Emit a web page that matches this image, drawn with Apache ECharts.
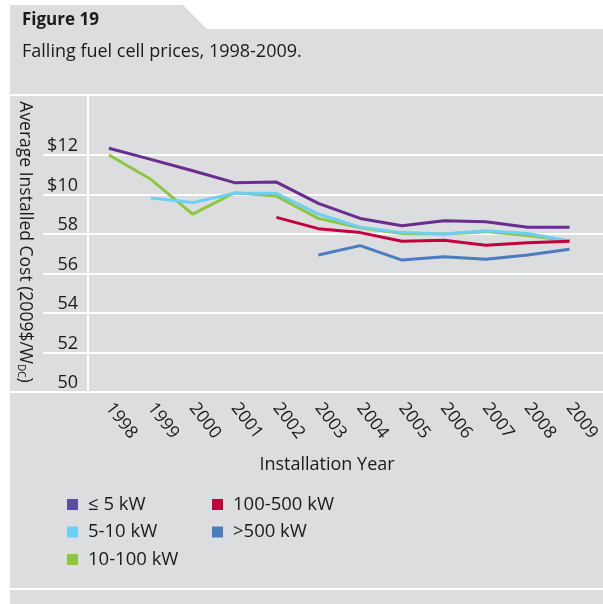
<!DOCTYPE html>
<html>
<head>
<meta charset="utf-8">
<script src="https://cdn.jsdelivr.net/npm/echarts@6/dist/echarts.min.js"></script>
<style>
html,body{margin:0;padding:0;background:#fff;}
#chart{width:603px;height:604px;}
</style>
</head>
<body>
<div id="chart"></div>
<script>
// ---- data ----
var years = ['1998','1999','2000','2001','2002','2003','2004','2005','2006','2007','2008','2009'];
var yTickValues = [0, 2, 4, 6, 8, 10, 12];
var yTickLabels = ['50', '52', '54', '56', '58', '$10', '$12'];
var seriesNames = ['\u2264 5 kW', '5-10 kW', '10-100 kW', '100-500 kW', '>500 kW'];
var le5kW     = [12.34, 11.78, 11.20, 10.60, 10.63, 9.55, 8.79, 8.42, 8.67, 8.62, 8.34, 8.34];
var kW5to10   = [null, 9.82, 9.59, 10.06, 10.06, 9.01, 8.34, 8.07, 8.00, 8.17, 8.03, 7.65];
var kW10to100 = [12.00, 10.77, 9.01, 10.09, 9.92, 8.79, 8.32, 8.03, 8.00, 8.12, 7.92, 7.65];
var kW100to500= [null, null, null, null, 8.84, 8.27, 8.07, 7.63, 7.68, 7.43, 7.56, 7.63];
var kWgt500   = [null, null, null, null, null, 6.94, 7.41, 6.68, 6.85, 6.72, 6.94, 7.23];

var colors = ['#6a2c8f', '#6dcff6', '#8dc63f', '#c4003d', '#4a7cc0'];
var legendColors = ['#5b4ea3', '#6dcff6', '#8dc63f', '#c4003d', '#4a7cc0'];
var seriesData = [le5kW, kW5to10, kW10to100, kW100to500, kWgt500];

var FONT = 'Open Sans';
var GREY = '#dcdddf';
var TXT = '#1a1a1a';

var chart = echarts.init(document.getElementById('chart'), null, {renderer: 'canvas'});

var series = seriesNames.map(function (n, i) {
  return {
    name: n, type: 'line', xAxisIndex: 1, yAxisIndex: 1,
    data: seriesData[i], symbol: 'none', clip: false,
    lineStyle: {width: 3, color: colors[i]},
    itemStyle: {color: legendColors[i]},
    z: 3
  };
});
series[2].z = 2;

function legendData(names) {
  return names.map(function (n) { return {name: n}; });
}

var option = {
  backgroundColor: '#ffffff',
  animation: false,
  graphic: [
    {type: 'polygon', z: -10, silent: true,
     shape: {points: [[10,5],[183,5],[207,29],[603,29],[603,604],[10,604]]},
     style: {fill: GREY}},
    {type: 'line', z: 1, shape: {x1: 10, y1: 95, x2: 603, y2: 95}, style: {stroke: '#fff', lineWidth: 2}},
    {type: 'line', z: 1, shape: {x1: 88, y1: 95, x2: 88, y2: 392}, style: {stroke: '#fff', lineWidth: 2}},
    {type: 'line', z: 1, shape: {x1: 10, y1: 392, x2: 603, y2: 392}, style: {stroke: '#fff', lineWidth: 2}},
    {type: 'line', z: 1, shape: {x1: 10, y1: 589, x2: 603, y2: 589}, style: {stroke: '#fff', lineWidth: 2}},
    {type: 'text', z: 5, x: 22, y: 20,
     style: {text: 'Figure 19', fontFamily: FONT, fontSize: 17, fontWeight: 'bold', fill: TXT, verticalAlign: 'middle'}},
    {type: 'text', z: 5, x: 22, y: 52,
     style: {text: 'Falling fuel cell prices, 1998-2009.', fontFamily: FONT, fontSize: 18, fill: TXT, verticalAlign: 'middle'}},
    {type: 'text', z: 5, x: 25, y: 242, rotation: -Math.PI / 2,
     style: {text: 'Average Installed Cost (2009$/W{s|DC})', fontFamily: FONT, fontSize: 17.5, fill: TXT,
             align: 'center', verticalAlign: 'middle',
             rich: {s: {fontSize: 10, fontFamily: FONT, fill: TXT, padding: [8, 0, 0, 0]}}}},
    {type: 'text', z: 5, x: 327, y: 465,
     style: {text: 'Installation Year', fontFamily: FONT, fontSize: 18, fill: TXT, align: 'center', verticalAlign: 'middle'}}
  ],
  legend: [
    {data: legendData(seriesNames.slice(0, 3)), orient: 'vertical', left: 62, top: 490,
     itemWidth: 11, itemHeight: 11, itemGap: 8.5, icon: 'rect',
     textStyle: {fontFamily: FONT, fontSize: 18.5, color: TXT, lineHeight: 17, padding: [0,0,0,5]}},
    {data: legendData(seriesNames.slice(3)), orient: 'vertical', left: 207, top: 490,
     itemWidth: 11, itemHeight: 11, itemGap: 8.5, icon: 'rect',
     textStyle: {fontFamily: FONT, fontSize: 18.5, color: TXT, lineHeight: 17, padding: [0,0,0,5]}}
  ],
  grid: [
    {left: 43, right: 0, top: 155, bottom: 212},
    {left: 88, right: 9, top: 155, bottom: 212}
  ],
  xAxis: [
    {gridIndex: 0, type: 'value', show: false, min: 0, max: 1},
    {gridIndex: 1, type: 'category', data: years, boundaryGap: true,
     axisLine: {show: false}, axisTick: {show: false}, splitLine: {show: false},
     axisLabel: {rotate: -52, margin: 13, fontFamily: FONT, fontSize: 17.5, color: TXT, interval: 0}}
  ],
  yAxis: [
    {gridIndex: 0, type: 'value', min: 0, max: 12, interval: 2,
     axisLine: {show: false}, axisTick: {show: false},
     splitLine: {show: true, lineStyle: {color: '#ffffff', width: 2}},
     axisLabel: {inside: true, margin: 35, align: 'right', verticalAlign: 'bottom', lineHeight: 18,
                 fontFamily: FONT, fontSize: 18, color: TXT,
                 formatter: function (v) { var k = yTickValues.indexOf(v); return k >= 0 ? yTickLabels[k] : ''; }}},
    {gridIndex: 1, type: 'value', min: 0, max: 12, interval: 2, show: false, splitLine: {show: false}}
  ],
  series: series
};
chart.setOption(option);
</script>
</body>
</html>
